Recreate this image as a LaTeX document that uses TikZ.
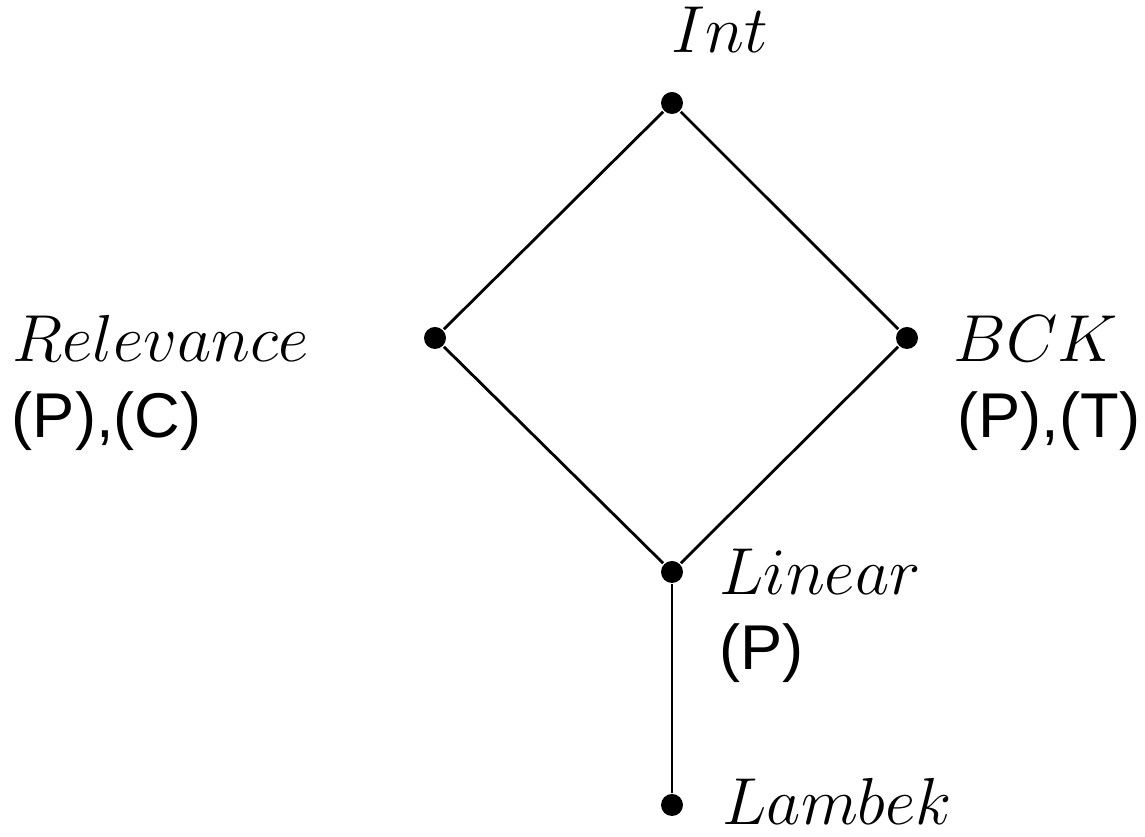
\documentclass[tikz,border=0pt]{standalone}
\usepackage{fontspec}
\setsansfont{Liberation Sans}
\usetikzlibrary{positioning,calc}

\begin{document}
\begin{tikzpicture}[line width=0.8pt,
			logic/.style={circle, fill=black, inner sep=0pt, minimum size=2.2mm},
			logicname/.style={inner sep=0pt, font=\fontsize{18}{21.6}\selectfont, transform shape, scale=1.095},
			props/.style={inner sep=0pt, font=\fontsize{18}{21.6}\selectfont\sffamily}
		]
		\useasboundingbox (0,0) rectangle (11.45,8.37);
		
		\node[logic] (int) at (6.72,7.34) {};
		\node[logic] (rel) at (4.35,4.99) {};
		\node[logic] (bck) at (9.07,4.99) {};
		\node[logic] (lin) at (6.72,2.65) {};
		\node[logic] (lam) at (6.72,0.32) {};
		
		\node[logicname, anchor=base] (int_l) at ($(int)+(0.48,0.50)$) {$Int$};
		\node[logicname, anchor=base east] (rel_l) at ($(rel)+(-1.25,-0.24)$) {$Relevance$};
		\node[logicname, anchor=base west] (bck_l) at ($(bck)+(0.45,-0.24)$) {$BCK$};
		\node[logicname, anchor=base west] (lin_l) at ($(lin)+(0.46,-0.23)$) {$Linear$};
		\node[logicname, anchor=base west] (lam_l) at ($(lam)+(0.49,-0.20)$) {$Lambek$};
		
		\node[props] (rel_p) [below=7.6mm of rel_l.base west, anchor=base west] {(P),(C)};
		\node[props] (bck_p) [below=7.6mm of bck_l.base west, anchor=base west, xshift=0.4mm] {(P),(T)};
		\node[props] (lin_p) [below=7.5mm of lin_l.base west, anchor=base west] {(P)};
		
		\draw (int) -- (rel);
		\draw (int) -- (bck);
		\draw (rel) -- (lin);
		\draw (bck) -- (lin);
		\draw (lin) -- (lam);
	\end{tikzpicture}
\end{document}
